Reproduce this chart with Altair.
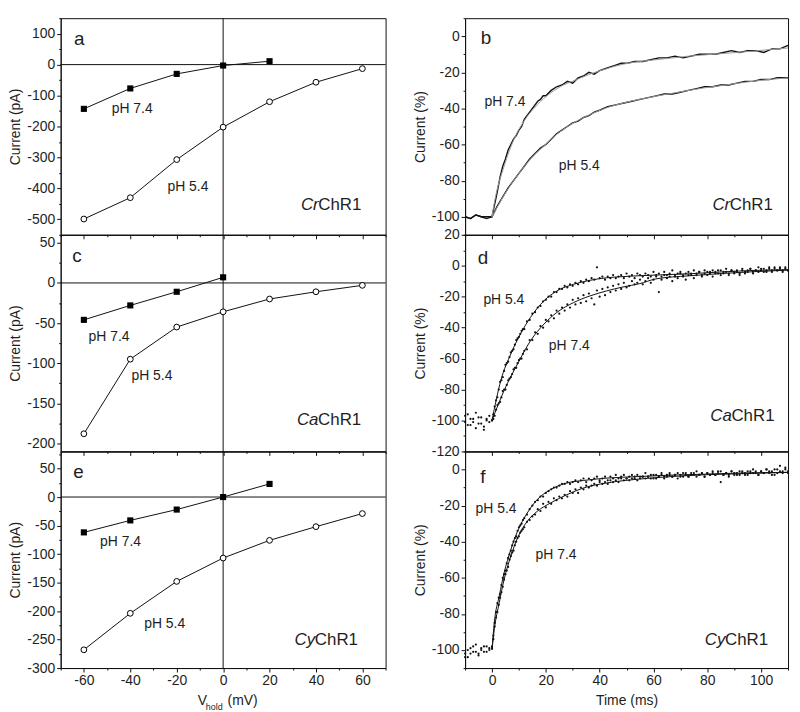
import altair as alt
import pandas as pd

FONT = "Liberation Sans"
INK = "#111111"
TXT = "#1e1e1e"

# ---------------- left column: I-V curves ----------------
V_54 = [-60, -40, -20, 0, 20, 40, 60]

V_74_A = [-60, -40, -20, 0, 20]
I_74_A = [-143, -77, -30, -3, 11]
I_54_A = [-499, -430, -307, -202, -120, -57, -13]

V_74_C = [-60, -40, -20, 0]
I_74_C = [-46, -28, -11, 7]
I_54_C = [-188, -95, -55, -36, -20, -11, -3]

V_74_E = [-60, -40, -20, 0, 20]
I_74_E = [-62, -41, -22, 0, 23]
I_54_E = [-268, -204, -148, -107, -76, -52, -29]

# ---------------- right column: kinetics (Current %) ----------------
# panel b: recorded traces
TB_74 = [-10, -8, -6, -4, -2, 0, 1, 2, 3, 4, 5, 6, 7, 8, 9, 10, 11, 12, 13, 14, 15, 16, 17, 18, 19, 20,
         22, 24, 26, 28, 30, 32, 34, 36, 38, 40, 42, 44, 46, 48, 50, 53, 56, 59, 62, 65, 68, 71, 74, 77,
         80, 83, 86, 89, 92, 95, 98, 101, 104, 107, 110]
YB_74 = [-100, -101, -99, -100, -101, -100, -93, -86, -78, -72, -68, -63, -60, -57, -55, -52, -50, -46,
         -44, -42, -40, -38, -36, -35, -33, -33, -30, -28, -27, -25, -26, -23, -22, -20, -21, -19, -18,
         -17, -16, -15, -15, -14, -14, -13, -12, -12, -11, -12, -11, -10, -10, -10, -9, -8, -9, -8, -8,
         -9, -7, -7, -5]
TB_54 = [-10, -8, -6, -4, -2, 0, 2, 4, 6, 8, 10, 12, 14, 16, 18, 20, 22, 24, 26, 28, 30, 32, 34, 36, 38,
         40, 43, 46, 49, 52, 55, 58, 61, 64, 67, 70, 73, 76, 79, 82, 85, 88, 91, 94, 97, 100, 103, 106, 110]
YB_54 = [-100, -101, -99, -100, -100, -100, -94, -89, -84, -80, -76, -72, -68, -65, -62, -60, -57, -54,
         -52, -50, -48, -47, -45, -44, -42, -41, -39, -38, -37, -36, -35, -34, -33, -32, -32, -31, -30,
         -29, -28, -28, -27, -27, -26, -25, -25, -24, -24, -23, -23]
# panel b: fits
FB_74_T = [0, 0.9, 4.5, 8.2, 11.9, 16.8, 21.7, 26.6, 31.5, 36.4, 42.5, 48.7, 54.8, 60.9, 67, 73.2, 79.3,
           85.4, 91.5, 97.7, 103.8, 110]
FB_74_Y = [-100, -92, -72, -57, -47, -38, -31.5, -27, -24, -21, -18, -15.5, -14, -13, -12, -11, -10.3,
           -9.6, -8.9, -8.2, -7.3, -6.5]
FB_54_T = [0, 4.5, 9.5, 14.3, 19.3, 24.1, 30.3, 36.4, 42.5, 48.7, 54.8, 60.9, 67, 73.2, 79.3, 85.4, 91.5,
           97.7, 103.8, 110]
FB_54_Y = [-100, -88, -77, -68, -60.7, -54.3, -48, -43.4, -39.7, -37, -35, -33.2, -31.6, -30, -28.5,
           -27.3, -26, -24.8, -23.8, -23.1]

# sample times (ms) of the recorded points in panels d and f
T_GRID = list(range(-10, 111))
T_HALF = [0.5, 1.5, 2.5, 3.5, 4.5, 5.5, 6.5, 7.5, 8.5, 9.5, 10.5, 11.5]

# panel d: recorded points
YD_54 = [-97, -103, -99, -101, -95, -102, -98, -104, -100, -97,
         -100, -91, -85, -75, -72, -64, -62, -56, -54, -48, -46, -42, -41, -36, -35, -31, -30, -27, -26,
         -23, -22, -20, -20, -17, -17, -15, -15, -13, -14, -12, -13,
         -11, -12, -10, -11, -9, -10, -8, -9, -1, -8, -7, -9, -7, -8, -6, -8, -7, -6, -8, -5,
         -7, -6, -8, -5, -6, -7, -5, -6, -7, -4,
         -6, -5, -7, -4, -6, -5, -3, -7, -5, -4, -6, -5, -4, -6, -3, -5, -4, -6, -3, -4,
         -5, -3, -4, -5, -3, -4, -2, -5, -3, -4,
         -3, -5, -2, -4, -3, -2, -4, -3, -1, -3, -2, -4, -2, -3, -1, -3, -2, -3, -1, -3]
YD_54_HALF = [-96, -87, -80, -74, -68, -63, -59, -55, -51, -47, -44, -41]
YD_74 = [-101, -96, -103, -99, -105, -98, -102, -106, -99, -101,
         -100, -97, -90, -88, -81, -80, -74, -72, -67, -66, -61, -60, -55, -54, -48, -48, -43, -44, -39,
         -40, -35, -36, -32, -34, -29, -31, -27, -29, -25, -27, -22,
         -25, -21, -24, -19, -23, -18, -21, -25, -16, -20, -15, -19, -14, -17, -13, -16, -12, -15, -11,
         -14, -13, -10, -12, -11, -9, -12, -10, -8, -11, -9,
         -7, -17, -9, -6, -8, -7, -10, -6, -8, -5, -7, -9, -6, -5, -8, -6, -4, -7, -5, -6,
         -4, -7, -5, -3, -6, -5, -4, -6, -3, -5,
         -4, -6, -3, -5, -4, -2, -5, -3, -4, -2, -4, -3, -1, -4, -2, -3, -1, -4, -2, -3]
YD_74_HALF = [-99, -93, -89, -85, -80, -77, -73, -70, -66, -63, -60, -57]
# panel d: fits
FD_54_T = [0, 3.3, 7, 10.6, 14.3, 19.3, 24.1, 30.3, 36.4, 42.5, 48.7, 60.9, 73.2, 85.4, 97.7, 110]
FD_54_Y = [-100, -74, -57, -44, -33.4, -22.7, -16.3, -12, -9.4, -7.8, -7, -6, -5.2, -4, -3, -2.6]
FD_74_T = [0, 4.5, 9.5, 14.3, 19.3, 24.1, 30.3, 36.4, 42.5, 48.7, 54.8, 60.9, 73.2, 85.4, 97.7, 110]
FD_74_Y = [-100, -80.6, -63.4, -48.5, -37.7, -30.2, -23.8, -19.5, -16.3, -13.7, -11.6, -8.5, -6.5, -5,
           -3.8, -2.8]

# panel f: recorded points
YF_54 = [-102, -104, -99, -101, -97, -102, -100, -98, -101, -99,
         -98, -85, -74, -69, -60, -56, -49, -45, -40, -37, -32, -30, -27, -25, -22, -20, -18, -17, -15,
         -15, -13, -12, -11, -10, -10, -9, -8, -8, -7, -8, -7,
         -6, -7, -6, -5, -7, -5, -6, -5, -4, -6, -5, -4, -6, -4, -5, -3, -5, -4, -3, -5,
         -4, -3, -5, -3, -4, -4, -2, -4, -3, -5,
         -3, -4, -2, -4, -3, -2, -4, -3, -2, -4, -2, -3, -4, -2, -3, -1, -3, -2, -4, -2,
         -3, -1, -3, -2, -1, -3, -2, -4, -1, -2,
         -3, -1, -2, -3, -1, -2, 0, -2, -3, -1, -2, 0, -1, -3, 0, -2, 2, -1, 1, -2]
YF_54_HALF = [-92, -79, -71, -64, -58, -52, -47, -42, -38, -34, -31, -28]
YF_74 = [-104, -100, -102, -98, -101, -103, -99, -101, -98, -100,
         -99, -87, -79, -71, -65, -58, -54, -48, -45, -40, -37, -34, -32, -29, -28, -26, -25, -22, -23,
         -19, -21, -18, -19, -16, -17, -15, -16, -14, -15, -12, -13,
         -11, -13, -10, -11, -9, -10, -9, -8, -9, -7, -8, -7, -8, -6, -7, -6, -7, -5, -6, -5,
         -6, -5, -4, -6, -5, -4, -5, -4, -5, -3,
         -5, -4, -3, -5, -4, -3, -4, -3, -5, -3, -4, -2, -4, -3, -2, -4, -3, -2, -4, -2,
         -3, -2, -3, -1, -7, -3, -2, -3, -1, -3,
         -2, -3, -1, -2, -3, -1, -2, -1, -3, -1, -2, 0, -2, -1, -3, 0, -1, -2, 0, -1]
YF_74_HALF = [-94, -82, -75, -68, -61, -56, -50, -46, -42, -38, -35, -33]
# panel f: fits
FF_54_T = [0, 0.85, 2.7, 4.5, 7, 9.5, 13.1, 16.8, 21.7, 27.8, 33.9, 42.5, 54.8, 67, 79.3, 91.5, 110]
FF_54_Y = [-100, -84.9, -70.1, -57.3, -44.4, -34.2, -24.1, -16.7, -11.2, -7.5, -6.1, -4.8, -3.9, -3.1,
           -2.6, -2.0, -1.6]
FF_74_T = [0, 0.85, 2.7, 4.5, 7, 9.5, 13.1, 16.8, 21.7, 27.8, 33.9, 42.5, 54.8, 67, 79.3, 91.5, 110]
FF_74_Y = [-100, -88.6, -73.8, -60.9, -48, -37.9, -28.7, -23.2, -18.6, -14, -10.3, -7.5, -5.3, -3.9,
           -2.9, -2.4, -1.6]

# ---------------- axis tick values ----------------
VHOLD_TICKS = list(range(-70, 71, 10))
TIME_TICKS = list(range(-10, 111, 10))
YT_A = list(range(-550, 151, 50))
YT_C = list(range(-200, 51, 25))
YT_E = list(range(-300, 76, 25))
YT_BF = list(range(-110, 11, 10))
YT_D = list(range(-120, 21, 10))

W_L, W_R, H = 327, 325, 218


def make_axis(values, step, show_labels, title, title_pad=4):
    kw = dict(
        values=values,
        labels=show_labels,
        labelExpr=f"datum.value % {step} === 0 ? '' + datum.value : ''",
        tickSize={"condition": {"test": f"datum.value % {step} !== 0", "value": 2}, "value": 4},
        grid=False,
        labelOverlap=False,
        labelFlush=False,
        labelPadding=2,
        titlePadding=title_pad,
        title=title,
    )
    return alt.Axis(**kw)


def text_layers(X, Y, letter, labels, prefix, suffix):
    layers = []
    layers.append(
        alt.Chart(pd.DataFrame({"x": [letter[0]], "y": [letter[1]], "t": [letter[2]]}))
        .mark_text(font=FONT, fontSize=19, align="center", baseline="middle", color=TXT)
        .encode(x=X, y=Y, text="t:N")
    )
    layers.append(
        alt.Chart(pd.DataFrame({"x": [l[0] for l in labels], "y": [l[1] for l in labels],
                                "t": [l[2] for l in labels]}))
        .mark_text(font=FONT, fontSize=14, align="left", baseline="middle", color=TXT)
        .encode(x=X, y=Y, text="t:N")
    )
    layers.append(
        alt.Chart(pd.DataFrame({"x": [suffix[0]], "y": [suffix[1]], "t": [suffix[2]]}))
        .mark_text(font=FONT, fontSize=17, align="right", baseline="middle", color=TXT)
        .encode(x=X, y=Y, text="t:N")
    )
    layers.append(
        alt.Chart(pd.DataFrame({"x": [suffix[0]], "y": [suffix[1]], "t": [prefix]}))
        .mark_text(font=FONT, fontSize=17, align="right", baseline="middle", color=TXT,
                   fontStyle="italic", dx=-43)
        .encode(x=X, y=Y, text="t:N")
    )
    return layers


def iv_panel(v74, i74, i54, ydom, yticks, ystep, letter, labels, prefix, name_pos, bottom):
    xs = alt.Scale(domain=[-70, 70], nice=False, zero=False)
    ys = alt.Scale(domain=ydom, nice=False, zero=False)
    X = alt.X("x:Q", scale=xs, axis=make_axis(VHOLD_TICKS, 20, bottom, None))
    Y = alt.Y("y:Q", scale=ys, axis=make_axis(yticks, ystep, True, "Current (pA)"))
    d74 = pd.DataFrame({"x": v74, "y": i74})
    d54 = pd.DataFrame({"x": V_54, "y": i54})
    layers = [
        alt.Chart(pd.DataFrame({"y": [0]})).mark_rule(color=INK, strokeWidth=1).encode(y=Y),
        alt.Chart(pd.DataFrame({"x": [0]})).mark_rule(color=INK, strokeWidth=1).encode(x=X),
        alt.Chart(d74).mark_line(color=INK, strokeWidth=1).encode(x=X, y=Y),
        alt.Chart(d54).mark_line(color=INK, strokeWidth=1).encode(x=X, y=Y),
        alt.Chart(d74).mark_point(shape="square", filled=True, size=38, color="black", opacity=1)
        .encode(x=X, y=Y),
        alt.Chart(d54).mark_point(shape="circle", filled=True, fill="white", stroke="black",
                                  strokeWidth=1, size=34, opacity=1).encode(x=X, y=Y),
    ]
    layers += text_layers(X, Y, letter, labels, prefix, (name_pos[0], name_pos[1], "ChR1"))
    if bottom:
        for xv, yv, t, fs in [(138, 251, "V", 14), (146, 257, "hold", 9), (168, 251, "(mV)", 14)]:
            layers.append(
                alt.Chart(pd.DataFrame({"t": [t]}))
                .mark_text(font=FONT, fontSize=fs, align="left", baseline="middle", color=TXT)
                .encode(x=alt.value(xv), y=alt.value(yv), text="t:N")
            )
    return alt.layer(*layers).properties(width=W_L, height=H)


def kin_panel(lines, dots, fits, fit_color, ydom, yticks, letter, labels, prefix, name_pos, bottom):
    xs = alt.Scale(domain=[-10, 110], nice=False, zero=False)
    ys = alt.Scale(domain=ydom, nice=False, zero=False)
    X = alt.X("x:Q", scale=xs,
              axis=make_axis(TIME_TICKS, 20, bottom, "Time (ms)" if bottom else None, title_pad=6))
    Y = alt.Y("y:Q", scale=ys, axis=make_axis(yticks, 20, True, "Current (%)"))
    layers = []
    for t, v in lines:
        layers.append(alt.Chart(pd.DataFrame({"x": t, "y": v}))
                      .mark_line(color=INK, strokeWidth=1.4).encode(x=X, y=Y))
    for t, v in dots:
        layers.append(alt.Chart(pd.DataFrame({"x": t, "y": v}))
                      .mark_circle(color=INK, size=5, opacity=1).encode(x=X, y=Y))
    for t, v in fits:
        layers.append(alt.Chart(pd.DataFrame({"x": t, "y": v}))
                      .mark_line(color=fit_color, strokeWidth=1, interpolate="monotone").encode(x=X, y=Y))
    layers += text_layers(X, Y, letter, labels, prefix, (name_pos[0], name_pos[1], "ChR1"))
    return alt.layer(*layers).properties(width=W_R, height=H)


pa = iv_panel(V_74_A, I_74_A, I_54_A, [-550, 150], YT_A, 100,
              (-62, 82, "a"), [(-48, -144, "pH 7.4"), (-24, -395, "pH 5.4")],
              "Cr", (59.6, -453), False)
pc = iv_panel(V_74_C, I_74_C, I_54_C, [-210, 60], YT_C, 50,
              (-63, 34, "c"), [(-58, -68, "pH 7.4"), (-39.5, -116, "pH 5.4")],
              "Ca", (59.5, -171), False)
pe = iv_panel(V_74_E, I_74_E, I_54_E, [-300, 80], YT_E, 50,
              (-62.3, 44, "e"), [(-53, -79, "pH 7.4"), (-34, -222, "pH 5.4")],
              "Cy", (58.1, -250), True)

pb = kin_panel([(TB_74, YB_74), (TB_54, YB_54)], [],
               [(FB_74_T, FB_74_Y), (FB_54_T, FB_54_Y)], "#9a9a9a",
               [-110, 10], YT_BF, (-2.2, -1, "b"),
               [(-2.8, -36.6, "pH 7.4"), (24.8, -71.7, "pH 5.4")], "Cr", (104.4, -93.6), False)
pd_ = kin_panel([], [(T_GRID, YD_54), (T_HALF, YD_54_HALF), (T_GRID, YD_74), (T_HALF, YD_74_HALF)],
                [(FD_54_T, FD_54_Y), (FD_74_T, FD_74_Y)], INK,
                [-120, 20], YT_D, (-3.3, 5, "d"),
                [(-3.2, -22.3, "pH 5.4"), (21.1, -52.2, "pH 7.4")], "Ca", (105, -97.2), False)
pf = kin_panel([], [(T_GRID, YF_54), (T_HALF, YF_54_HALF), (T_GRID, YF_74), (T_HALF, YF_74_HALF)],
               [(FF_54_T, FF_54_Y), (FF_74_T, FF_74_Y)], INK,
               [-110, 10], YT_BF, (-3.4, -4, "f"),
               [(-6.1, -22.1, "pH 5.4"), (16.2, -47.3, "pH 7.4")], "Cy", (102.6, -94.5), True)

chart = (
    alt.concat(pa, pb, pc, pd_, pe, pf, columns=2,
               spacing={"row": 0, "column": 80}, bounds="flush")
    .properties(padding=0)
    .configure_view(stroke=INK, strokeWidth=1)
    .configure_axis(labelFont=FONT, titleFont=FONT, labelFontSize=14, titleFontSize=14,
                    titleFontWeight="normal", labelColor=TXT, titleColor=TXT,
                    domainColor=INK, tickColor=INK, domainWidth=1, tickWidth=1)
)

chart.save("out.html", embed_options={"renderer": "svg", "actions": False})
